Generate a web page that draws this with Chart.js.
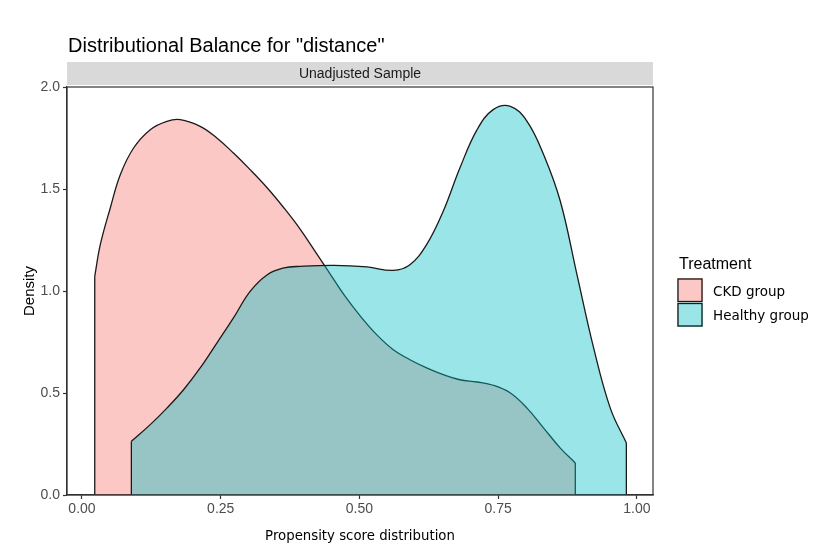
<!DOCTYPE html>
<html>
<head>
<meta charset="utf-8">
<style>
  body { margin: 0; background: #fff; }
  canvas { display: block; }
</style>
<script src="https://cdn.jsdelivr.net/npm/chart.js@4/dist/chart.umd.min.js"></script>
</head>
<body>
<canvas id="myChart" width="829" height="560"></canvas>
<script>
// groups shown in the legend
var categories = ['CKD group', 'Healthy group'];

// density curves (propensity score -> density)
var ckdX = [0.023, 0.033, 0.051, 0.069, 0.093, 0.123, 0.153, 0.177, 0.213, 0.243, 0.273, 0.303, 0.334, 0.364, 0.394, 0.424, 0.442, 0.472, 0.502, 0.531, 0.561, 0.591, 0.621, 0.651, 0.681, 0.712, 0.741, 0.772, 0.802, 0.832, 0.862, 0.889];
var ckdY = [1.072, 1.227, 1.407, 1.570, 1.701, 1.791, 1.832, 1.840, 1.807, 1.750, 1.676, 1.595, 1.505, 1.407, 1.300, 1.178, 1.105, 0.982, 0.876, 0.786, 0.712, 0.663, 0.623, 0.590, 0.565, 0.554, 0.538, 0.500, 0.426, 0.328, 0.230, 0.157];

var healthyX = [0.089, 0.123, 0.153, 0.183, 0.213, 0.243, 0.273, 0.303, 0.334, 0.364, 0.394, 0.454, 0.514, 0.561, 0.591, 0.621, 0.651, 0.681, 0.712, 0.741, 0.772, 0.802, 0.832, 0.862, 0.892, 0.922, 0.952, 0.981];
var healthyY = [0.263, 0.345, 0.426, 0.516, 0.623, 0.745, 0.868, 0.998, 1.080, 1.113, 1.121, 1.126, 1.118, 1.101, 1.129, 1.227, 1.391, 1.603, 1.791, 1.889, 1.905, 1.832, 1.668, 1.440, 1.080, 0.721, 0.426, 0.255];

var xTicks = [0, 0.25, 0.5, 0.75, 1];
var yTicks = [0, 0.5, 1, 1.5, 2];

var fills = ['rgba(248,118,109,0.4)', 'rgba(0,191,196,0.4)'];
var outline = '#1A1A1A';

function toPoints(xs, ys) {
    return xs.map(function(x, i) { return { x: x, y: ys[i] }; });
}

// the curve itself, filled down to zero
function curve(i, xs, ys) {
    return {
        label: categories[i],
        data: toPoints(xs, ys),
        backgroundColor: fills[i],
        borderColor: outline,
        borderWidth: 1.3,
        fill: 'origin',
        tension: 0.4,
        pointRadius: 0,
        order: 10 - i * 2
    };
}

// straight vertical outline where the density is cut off at the data range
function edge(i, x, y) {
    return {
        label: categories[i] + ' edge',
        data: [{ x: x, y: 0 }, { x: x, y: y }],
        borderColor: outline,
        borderWidth: 1.3,
        fill: false,
        tension: 0,
        pointRadius: 0,
        order: 9 - i * 2
    };
}

// title, facet strip, panel border and legend, ggplot style
var decorations = {
    id: 'decorations',
    beforeDraw: function(chart) {
        var ctx = chart.ctx, a = chart.chartArea;
        ctx.save();
        ctx.fillStyle = '#D9D9D9';
        ctx.fillRect(a.left, 62, a.right - a.left, 23);
        ctx.fillStyle = '#1A1A1A';
        ctx.font = '14px "Liberation Sans", Arial, sans-serif';
        ctx.textAlign = 'center';
        ctx.textBaseline = 'middle';
        ctx.fillText('Unadjusted Sample', (a.left + a.right) / 2, 74.5);

        ctx.fillStyle = '#000';
        ctx.font = '20px "Liberation Sans", Arial, sans-serif';
        ctx.textAlign = 'left';
        ctx.textBaseline = 'alphabetic';
        ctx.fillText('Distributional Balance for "distance"', 68, 52);
        ctx.restore();
    },
    afterDraw: function(chart) {
        var ctx = chart.ctx, a = chart.chartArea;
        ctx.save();
        ctx.strokeStyle = '#333';
        ctx.lineWidth = 1.2;
        ctx.strokeRect(a.left, a.top, a.right - a.left, a.bottom - a.top);

        ctx.fillStyle = '#000';
        ctx.font = '16px "Liberation Sans", Arial, sans-serif';
        ctx.textAlign = 'left';
        ctx.textBaseline = 'middle';
        ctx.fillText('Treatment', 679, 265);

        ctx.font = '13.5px "DejaVu Sans", sans-serif';
        categories.forEach(function(name, i) {
            var top = 278 + i * 24.5;
            ctx.fillStyle = '#fff';
            ctx.fillRect(677, top, 26, 24.5);
            ctx.fillStyle = fills[i];
            ctx.fillRect(677, top, 26, 24.5);
            ctx.strokeStyle = outline;
            ctx.lineWidth = 1.3;
            ctx.strokeRect(678, top + 1, 24, 22.5);
            ctx.fillStyle = '#000';
            ctx.fillText(name, 713, top + 14);
        });
        ctx.restore();
    }
};

var ctx = document.getElementById('myChart');
var chart = new Chart(ctx, {
    type: 'line',
    data: {
        datasets: [
            curve(0, ckdX, ckdY),
            edge(0, ckdX[0], ckdY[0]),
            edge(0, ckdX[ckdX.length - 1], ckdY[ckdY.length - 1]),
            curve(1, healthyX, healthyY),
            edge(1, healthyX[0], healthyY[0]),
            edge(1, healthyX[healthyX.length - 1], healthyY[healthyY.length - 1])
        ]
    },
    options: {
        responsive: false,
        animation: false,
        layout: { padding: { left: 0, top: 87, right: 176, bottom: 0 } },
        plugins: {
            legend: { display: false },
            title: { display: false },
            tooltip: { enabled: false }
        },
        scales: {
            x: {
                type: 'linear',
                min: -0.027,
                max: 1.029,
                afterBuildTicks: function(scale) {
                    scale.ticks = xTicks.map(function(v) { return { value: v }; });
                },
                afterFit: function(scale) { scale.height = 65; },
                ticks: {
                    color: '#4D4D4D',
                    font: { family: '"Liberation Sans", Arial, sans-serif', size: 14 },
                    padding: 2,
                    maxRotation: 0,
                    callback: function(v) { return v.toFixed(2); }
                },
                grid: { drawOnChartArea: false, tickLength: 4, color: '#333', tickWidth: 1.2 },
                border: { color: '#333', width: 1.2 },
                title: {
                    display: true,
                    text: 'Propensity score distribution',
                    color: '#000',
                    font: { family: '"DejaVu Sans", sans-serif', size: 13.3 },
                    padding: { top: 0, bottom: 15 }
                }
            },
            y: {
                min: 0,
                max: 2,
                afterBuildTicks: function(scale) {
                    scale.ticks = yTicks.map(function(v) { return { value: v }; });
                },
                afterFit: function(scale) { scale.width = 67; },
                ticks: {
                    color: '#4D4D4D',
                    font: { family: '"Liberation Sans", Arial, sans-serif', size: 14 },
                    padding: 3,
                    callback: function(v) { return v.toFixed(1); }
                },
                grid: { drawOnChartArea: false, tickLength: 4, color: '#333', tickWidth: 1.2 },
                border: { color: '#333', width: 1.2 },
                title: {
                    display: true,
                    text: 'Density',
                    color: '#000',
                    font: { family: '"Liberation Sans", Arial, sans-serif', size: 15 },
                    padding: { top: 21, bottom: 0 }
                }
            }
        }
    },
    plugins: [decorations]
});
</script>
</body>
</html>
